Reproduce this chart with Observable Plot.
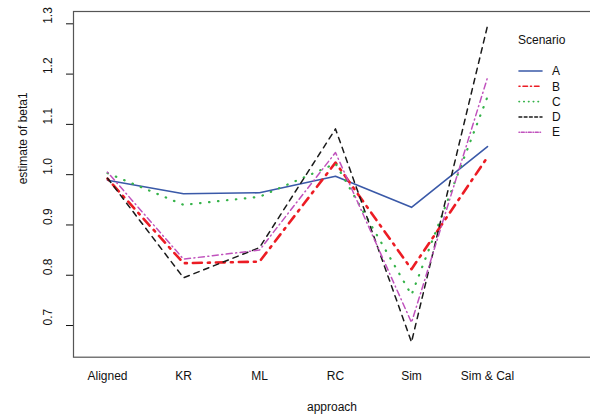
<!DOCTYPE html>
<html>
<head>
<meta charset="utf-8">
<script src="https://cdn.jsdelivr.net/npm/d3@7"></script>
<script src="https://cdn.jsdelivr.net/npm/@observablehq/plot@0.6"></script>
<style>
  html, body { margin: 0; padding: 0; background: #fff; }
  #chart { width: 590px; height: 418px; overflow: hidden; }
</style>
</head>
<body>
<div id="chart"></div>
<script>
// ---- data ----
const approaches = ["Aligned", "KR", "ML", "RC", "Sim", "Sim & Cal"];
const scenarios = ["A", "B", "C", "D", "E"];
const scenarioA = [0.989, 0.962, 0.964, 0.997, 0.935, 1.056];
const scenarioB = [0.992, 0.824, 0.827, 1.024, 0.812, 1.035];
const scenarioC = [1.003, 0.940, 0.956, 1.022, 0.761, 1.155];
const scenarioD = [0.993, 0.795, 0.855, 1.091, 0.667, 1.296];
const scenarioE = [1.005, 0.832, 0.850, 1.044, 0.706, 1.193];
const yTicks = [0.7, 0.8, 0.9, 1.0, 1.1, 1.2, 1.3];
const legendTitle = "Scenario";
const xTitle = "approach";
const yTitle = "estimate of beta1";

// ---- styles ----
const seriesValues = [scenarioA, scenarioB, scenarioC, scenarioD, scenarioE];
const styles = [
  {stroke: "#3a59a8", strokeWidth: 1.6, dash: null},
  {stroke: "#ec1c24", strokeWidth: 2.6, dash: "2,6,9,6"},
  {stroke: "#36b34a", strokeWidth: 2.2, dash: "0.5,8.5"},
  {stroke: "#1a1a1a", strokeWidth: 1.5, dash: "5.5,5"},
  {stroke: "#c052bd", strokeWidth: 1.5, dash: "1,3.5,6,3.5"}
];

const rows = [];
scenarios.forEach((s, i) => {
  approaches.forEach((a, j) => rows.push({scenario: s, approach: a, value: seriesValues[i][j]}));
});

const font = "'Liberation Sans', Arial, Helvetica, sans-serif";

const lineMarks = scenarios.map((s, i) => Plot.line(rows.filter(d => d.scenario === s), {
  x: "approach", y: "value",
  stroke: styles[i].stroke, strokeWidth: styles[i].strokeWidth,
  strokeDasharray: styles[i].dash, strokeLinecap: "round", strokeLinejoin: "round"
}));

const chart = Plot.plot({
  width: 590,
  height: 418,
  marginLeft: 73,
  marginRight: 0,
  marginTop: 11,
  marginBottom: 61.3,
  style: {fontFamily: font, fontSize: "12px", background: "white", color: "#111"},
  x: {type: "point", domain: approaches, range: [105, 488], padding: 0, axis: null},
  y: {domain: [0.637, 1.3245], ticks: yTicks, tickSize: 7, tickFormat: () => "", label: null},
  marks: [
    Plot.frame({stroke: "#555", strokeWidth: 1.2, insetRight: -4}),
    ...lineMarks,
    Plot.text(yTicks, {y: d => d, text: d => d.toFixed(1), frameAnchor: "left", dx: -25, rotate: -90, fontSize: 12, fill: "#111"}),
    Plot.text(approaches, {x: d => d, text: d => d, frameAnchor: "bottom", dy: 23, fontSize: 12, fill: "#111"}),
    Plot.text([xTitle], {text: d => d, frameAnchor: "bottom", dy: 54, fontSize: 12, fill: "#111"}),
    Plot.text([yTitle], {text: d => d, frameAnchor: "left", dx: -50, rotate: -90, fontSize: 12, fill: "#111"})
  ]
});

document.getElementById("chart").appendChild(chart);

// ---- legend (inside the plot area, top right) ----
const svg = d3.select(chart.tagName.toLowerCase() === "svg" ? chart : chart.querySelector("svg"));
const lg = svg.append("g").attr("font-family", font).attr("font-size", 12).attr("fill", "#111")
  .attr("text-anchor", "start");
lg.append("text").attr("x", 518).attr("y", 40).attr("dy", "0.35em").text(legendTitle);
scenarios.forEach((s, i) => {
  const y = 71 + i * 15.3;
  lg.append("line").attr("x1", 519).attr("x2", 542).attr("y1", y).attr("y2", y)
    .attr("stroke", styles[i].stroke).attr("stroke-width", Math.min(styles[i].strokeWidth, 1.6))
    .attr("stroke-dasharray", styles[i].dash ? styles[i].dash.split(",").map(v => Math.max(0.5, v * 0.5)).join(",") : null)
    .attr("stroke-linecap", "round");
  lg.append("text").attr("x", 552).attr("y", y).attr("dy", "0.35em").text(s);
});
</script>
</body>
</html>
